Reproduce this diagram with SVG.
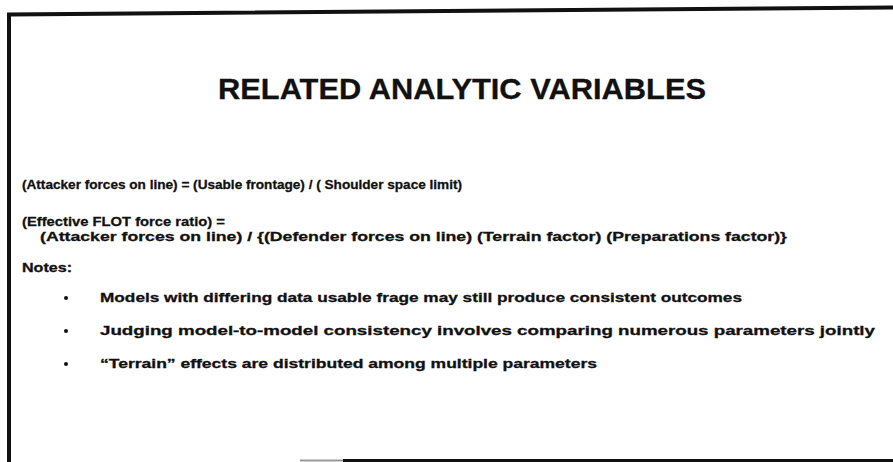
<svg xmlns="http://www.w3.org/2000/svg" width="893" height="462" viewBox="0 0 893 462">
<style>
.t{font-family:"Liberation Sans",Arial,sans-serif;font-weight:bold;fill:#111;stroke:#111;stroke-width:0.3;}
.b{font-size:13px;}
.frame{stroke:#111;fill:none;}
</style>
<rect width="893" height="462" fill="#fff"/>
<g id="frame">
<path class="frame" d="M9 462 V14.5 L893 7.5" stroke-width="4"/>
<path d="M300 460.5 H343" stroke="#999" stroke-width="2"/>
<path class="frame" d="M343 460.5 H893" stroke-width="3"/>
</g>
<g id="title"><text class="t" x="462" y="99" font-size="30" text-anchor="middle" textLength="488" lengthAdjust="spacingAndGlyphs">RELATED ANALYTIC VARIABLES</text></g>
<g id="eq1"><text class="t b" x="22" y="189" textLength="440" lengthAdjust="spacingAndGlyphs">(Attacker forces on line) = (Usable frontage) / ( Shoulder space limit)</text></g>
<g id="eq2">
<text class="t b" x="22" y="226" textLength="203" lengthAdjust="spacingAndGlyphs">(Effective FLOT force ratio) =</text>
<text class="t b" x="40" y="240.5" textLength="747" lengthAdjust="spacingAndGlyphs">(Attacker forces on line) / {(Defender forces on line)  (Terrain factor) (Preparations factor)}</text>
</g>
<g id="notes">
<text class="t b" x="22" y="272" textLength="50" lengthAdjust="spacingAndGlyphs">Notes:</text>
<circle cx="66" cy="298" r="2" fill="#111"/>
<text class="t b" x="100" y="302" textLength="642" lengthAdjust="spacingAndGlyphs">Models with differing data usable frage may still produce consistent outcomes</text>
<circle cx="66" cy="331" r="2" fill="#111"/>
<text class="t b" x="100" y="335" textLength="775" lengthAdjust="spacingAndGlyphs">Judging model-to-model consistency involves comparing numerous parameters jointly</text>
<circle cx="66" cy="364" r="2" fill="#111"/>
<text class="t b" x="100" y="368" textLength="497" lengthAdjust="spacingAndGlyphs">“Terrain” effects are distributed among multiple parameters</text>
</g>
</svg>
